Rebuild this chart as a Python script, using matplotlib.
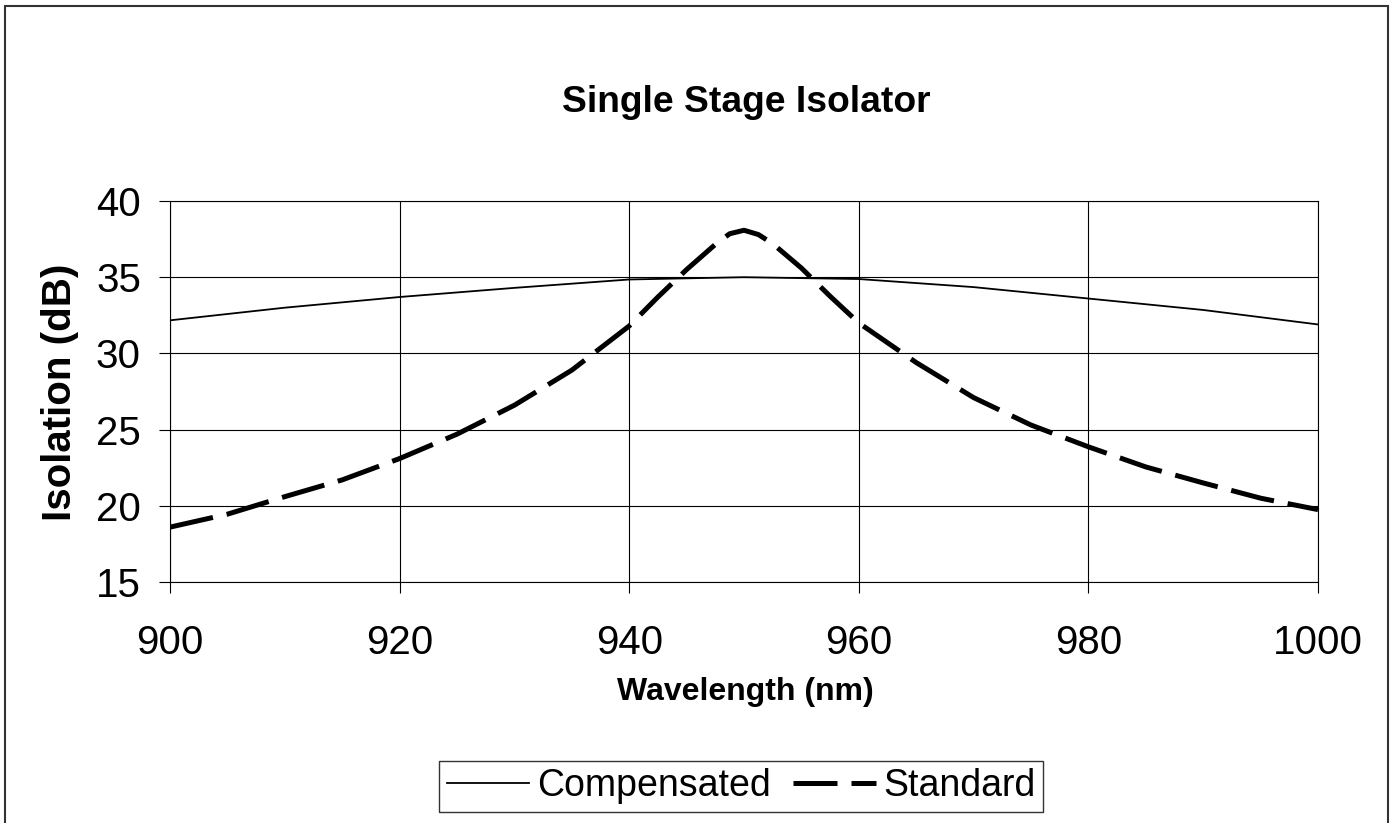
import matplotlib.pyplot as plt
from matplotlib.patches import Rectangle

plt.rcParams['font.family'] = ['Liberation Sans', 'DejaVu Sans']

# Data
wl_comp = [900, 910, 920, 930, 940, 950, 960, 970, 980, 990, 1000]
iso_comp = [32.17, 33.0, 33.7, 34.3, 34.85, 35.0, 34.88, 34.35, 33.6, 32.85, 31.9]

wl_std = [900, 905, 910, 915, 920, 925, 930, 935, 940, 942.5, 945, 947.5, 948.75, 950,
          951.25, 952.5, 955, 957.5, 960, 965, 970, 975, 980, 985, 990, 995, 1000]
iso_std = [18.6, 19.45, 20.6, 21.7, 23.1, 24.7, 26.6, 28.9, 31.8, 33.7, 35.5, 37.15, 37.85, 38.08,
           37.8, 37.2, 35.6, 33.75, 32.0, 29.4, 27.1, 25.3, 23.87, 22.55, 21.5, 20.5, 19.75]

xticks = [900, 920, 940, 960, 980, 1000]
yticks = [15, 20, 25, 30, 35, 40]

fig = plt.figure(figsize=(13.9, 8.23), dpi=100)
ax = fig.add_axes([170 / 1390, 1 - 582 / 823, 1148 / 1390, 381 / 823])

ax.plot(wl_comp, iso_comp, color='black', lw=1.3, label='Compensated')
ax.plot(wl_std, iso_std, color='black', lw=3.6, dashes=(8.8, 2.8), label='Standard')

ax.set_xlim(900, 1000)
ax.set_ylim(15, 40)
ax.set_xticks(xticks)
ax.set_yticks(yticks)
ax.grid(True, color='black', lw=0.8)
ax.tick_params(labelsize=29, direction='out', length=8, width=0.8)
ax.tick_params(axis='x', pad=22)
ax.tick_params(axis='y', pad=13)
for s in ax.spines.values():
    s.set_linewidth(0.8)

fig.text(746 / 1390, 1 - 103 / 823, 'Single Stage Isolator', fontsize=26.8,
         fontweight='bold', ha='center', va='center')
fig.text(745 / 1390, 1 - 692 / 823, 'Wavelength (nm)', fontsize=23,
         fontweight='bold', ha='center', va='center')
fig.text(60 / 1390, 1 - 392 / 823, 'Isolation (dB)', fontsize=29,
         fontweight='bold', ha='center', va='center', rotation=90)

leg = fig.legend(loc='center', bbox_to_anchor=(741 / 1390, 1 - 786 / 823), ncol=2,
                 fontsize=27, frameon=True, fancybox=False, edgecolor='black',
                 handlelength=2.2, handletextpad=0.2, columnspacing=0.6,
                 borderpad=0.2, borderaxespad=0)
leg.get_frame().set_linewidth(1.0)

# outer chart border
fig.patches.append(Rectangle((5 / 1390, -0.05), 1383 / 1390, 1.05 - 6 / 823,
                             transform=fig.transFigure, fill=False,
                             edgecolor='#333333', lw=1.5))

fig.savefig('out.png', dpi=100)
